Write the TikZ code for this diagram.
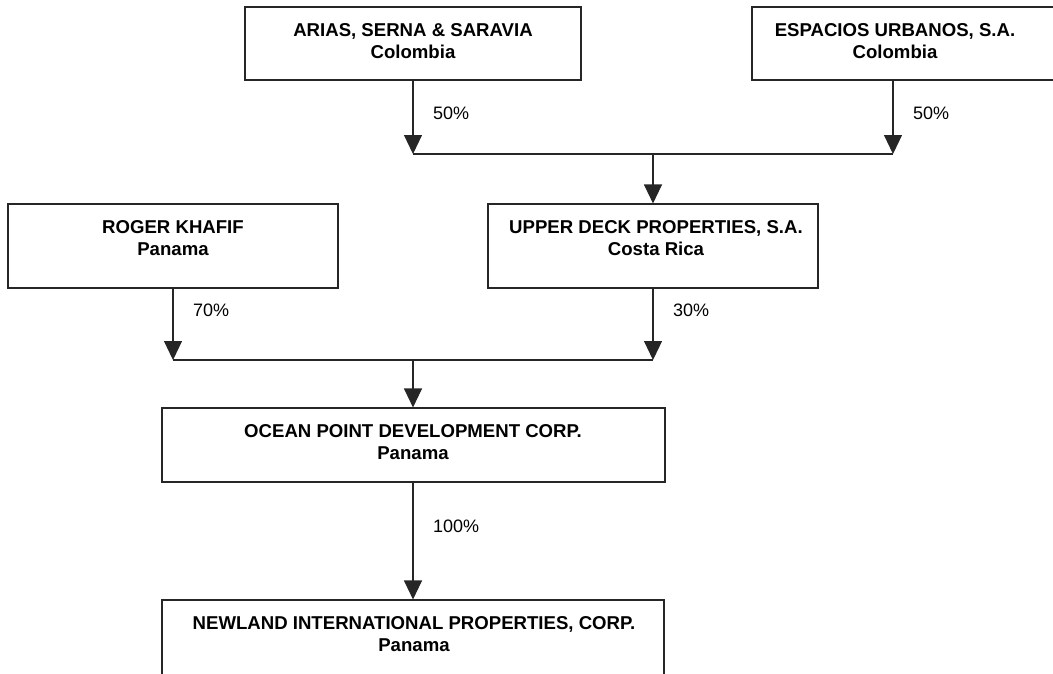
\documentclass[tikz,border=0pt]{standalone}
\usepackage{fontspec}
\setmainfont{Liberation Sans}
\usetikzlibrary{arrows.meta}
\tikzset{
  boxnode/.style={draw=black!85, line width=1.1pt, rectangle, inner sep=0pt},
  title/.style={anchor=north, inner sep=0pt, align=center, font=\fontsize{18.6}{21.5}\selectfont\bfseries},
  pct/.style={anchor=west, inner sep=0pt, font=\fontsize{18}{21.5}\selectfont},
  link/.style={draw=black!85, line width=1.1pt},
  arr/.style={link, -{Triangle[width=18pt,length=19pt]}},
}
\begin{document}
\begin{tikzpicture}[x=1pt,y=-1pt]
\useasboundingbox (0,0) rectangle (1053,673);
% boxes
\node[boxnode, minimum width=336pt, minimum height=73pt] (arias) at (413,43.5) {};
\node[boxnode, minimum width=308pt, minimum height=73pt] (espacios) at (906,43.5) {};
\node[boxnode, minimum width=330pt, minimum height=84pt] (roger) at (173,246) {};
\node[boxnode, minimum width=330pt, minimum height=84pt] (upper) at (653,246) {};
\node[boxnode, minimum width=503pt, minimum height=74pt] (ocean) at (413.5,445) {};
\node[boxnode, minimum width=502pt, minimum height=100pt] (newland) at (413,650) {};
% texts
\node[title] (tarias) at (413,23.5) {ARIAS, SERNA \& SARAVIA\\Colombia};
\node[title] (tespacios) at (895,23.5) {ESPACIOS URBANOS, S.A.\\Colombia};
\node[title] (troger) at (173,220.5) {ROGER KHAFIF\\Panama};
\node[title] (tupper) at (656,220.5) {UPPER DECK PROPERTIES, S.A.\\Costa Rica};
\node[title] (tocean) at (413,424.5) {OCEAN POINT DEVELOPMENT CORP.\\Panama};
\node[title] (tnewland) at (414,616.5) {NEWLAND INTERNATIONAL PROPERTIES, CORP.\\Panama};
% junctions
\coordinate (j1a) at (413,154);
\coordinate (j1b) at (893,154);
\coordinate (j1) at (653,154);
\coordinate (j2a) at (173,360);
\coordinate (j2b) at (653,360);
\coordinate (j2) at (413,360);
% connectors
\draw[arr] (arias.south -| j1a) -- (j1a);
\draw[arr] (espacios.south -| j1b) -- (j1b);
\draw[link] (j1a) -- (j1b);
\draw[arr] (j1) -- (upper.north -| j1);
\draw[arr] (roger.south -| j2a) -- (j2a);
\draw[arr] (upper.south -| j2b) -- (j2b);
\draw[link] (j2a) -- (j2b);
\draw[arr] (j2) -- (ocean.north -| j2);
\draw[arr] (ocean.south -| j2) -- (newland.north -| j2);
% labels
\node[pct] (p1) at (433,113) {50\%};
\node[pct] (p2) at (913,113) {50\%};
\node[pct] (p3) at (193,310) {70\%};
\node[pct] (p4) at (673,310) {30\%};
\node[pct] (p5) at (433,526) {100\%};
\end{tikzpicture}
\end{document}
